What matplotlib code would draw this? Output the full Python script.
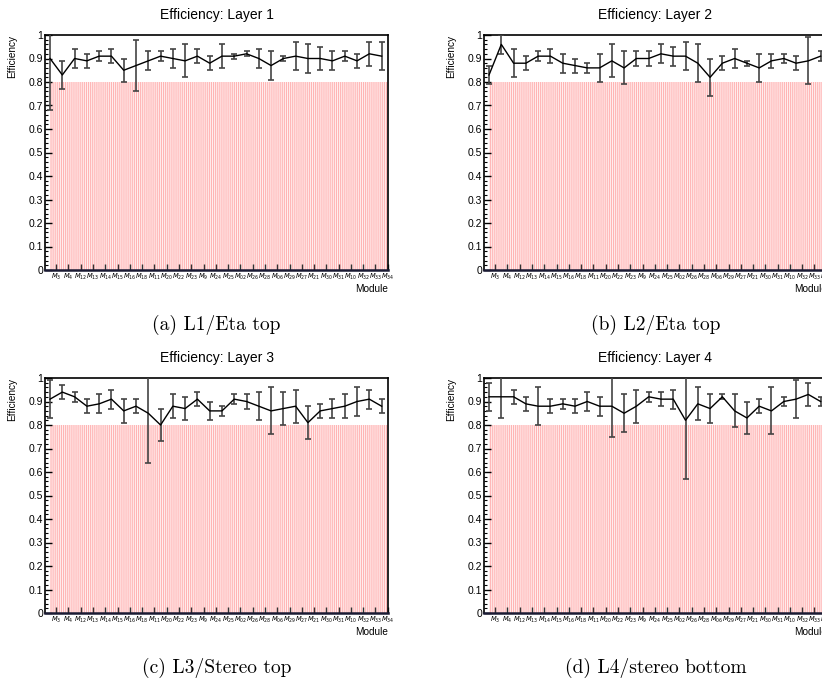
import numpy as np
import matplotlib.pyplot as plt
from matplotlib.ticker import MultipleLocator, FixedLocator

plt.rcParams['font.family'] = ['Liberation Sans', 'DejaVu Sans']
plt.rcParams['hatch.color'] = '#ffb4b4'
plt.rcParams['hatch.linewidth'] = 0.8

# module labels along x (same for every layer)
modules = ["3", "4", "12", "13", "14", "15", "16", "18", "11", "20", "22", "23", "9", "24",
           "25", "02", "26", "28", "06", "29", "27", "21", "30", "31", "10", "32", "33", "34"]

# efficiency and error per module
eff_l1 = [0.90, 0.83, 0.90, 0.89, 0.91, 0.91, 0.85, 0.87, 0.89, 0.91, 0.90, 0.89, 0.91, 0.88,
          0.91, 0.91, 0.92, 0.90, 0.87, 0.90, 0.91, 0.90, 0.90, 0.89, 0.91, 0.89, 0.92, 0.91]
err_l1 = [0.22, 0.06, 0.04, 0.03, 0.02, 0.03, 0.05, 0.11, 0.04, 0.02, 0.04, 0.07, 0.03, 0.03,
          0.05, 0.01, 0.01, 0.04, 0.06, 0.01, 0.06, 0.06, 0.05, 0.04, 0.02, 0.03, 0.05, 0.06]

eff_l2 = [0.83, 0.96, 0.88, 0.88, 0.91, 0.91, 0.88, 0.87, 0.86, 0.86, 0.89, 0.86, 0.90, 0.90,
          0.92, 0.91, 0.91, 0.88, 0.82, 0.88, 0.90, 0.88, 0.86, 0.89, 0.90, 0.88, 0.89, 0.91]
err_l2 = [0.04, 0.04, 0.06, 0.03, 0.02, 0.03, 0.04, 0.03, 0.02, 0.06, 0.07, 0.07, 0.03, 0.03,
          0.04, 0.04, 0.06, 0.08, 0.08, 0.03, 0.04, 0.01, 0.06, 0.03, 0.02, 0.03, 0.10, 0.02]

eff_l3 = [0.91, 0.94, 0.92, 0.88, 0.89, 0.91, 0.86, 0.88, 0.85, 0.80, 0.88, 0.87, 0.91, 0.86,
          0.86, 0.91, 0.90, 0.88, 0.86, 0.87, 0.88, 0.81, 0.86, 0.87, 0.88, 0.90, 0.91, 0.88]
err_l3 = [0.08, 0.03, 0.02, 0.03, 0.04, 0.04, 0.05, 0.03, 0.21, 0.07, 0.05, 0.05, 0.03, 0.04,
          0.02, 0.02, 0.03, 0.06, 0.10, 0.07, 0.07, 0.07, 0.03, 0.04, 0.05, 0.06, 0.04, 0.03]

eff_l4 = [0.92, 0.92, 0.92, 0.89, 0.88, 0.88, 0.89, 0.88, 0.90, 0.88, 0.88, 0.85, 0.88, 0.92,
          0.91, 0.91, 0.82, 0.89, 0.87, 0.92, 0.86, 0.83, 0.88, 0.86, 0.90, 0.91, 0.93, 0.90]
err_l4 = [0.06, 0.09, 0.03, 0.03, 0.08, 0.03, 0.02, 0.03, 0.04, 0.04, 0.13, 0.08, 0.07, 0.02,
          0.03, 0.04, 0.25, 0.07, 0.06, 0.01, 0.07, 0.07, 0.03, 0.10, 0.02, 0.08, 0.05, 0.02]

threshold = [0.8] * len(modules)

titles = ["Efficiency: Layer 1", "Efficiency: Layer 2", "Efficiency: Layer 3", "Efficiency: Layer 4"]
captions = ["(a) L1/Eta top", "(b) L2/Eta top", "(c) L3/Stereo top", "(d) L4/stereo bottom"]
effs = [eff_l1, eff_l2, eff_l3, eff_l4]
errs = [err_l1, err_l2, err_l3, err_l4]

fig = plt.figure(figsize=(8.22, 6.86), dpi=100)
W, H = 822.0, 686.0
# frame positions in pixels (left, top) ; right panels run off the page like the original
frames = [(45, 35), (484, 35), (45, 378), (484, 378)]
fw, fh = 343.0, 235.0

x = np.arange(len(modules))
for k in range(4):
    l, t = frames[k]
    ax = fig.add_axes([l / W, 1 - (t + fh) / H, fw / W, fh / H])
    ax.bar(x + 0.5, threshold, width=1.0, facecolor='#fff0f0', edgecolor='#ffb4b4',
           linewidth=0, hatch='||||||||', zorder=1)
    ax.errorbar(x, effs[k], yerr=errs[k], color='black', lw=1.0, ecolor='#444444',
                elinewidth=1.2, capsize=2, capthick=1.2, zorder=3)
    ax.set_xlim(-0.41, 27.52)
    ax.set_ylim(0, 1)

    ax.yaxis.set_major_locator(MultipleLocator(0.1))
    ax.yaxis.set_minor_locator(MultipleLocator(0.02))
    ax.set_yticks(np.arange(0, 1.01, 0.1))
    ax.set_yticklabels(["0", "0.1", "0.2", "0.3", "0.4", "0.5", "0.6", "0.7", "0.8", "0.9", "1"])
    ax.tick_params(axis='y', which='major', direction='in', length=5, width=1, labelsize=7.5, pad=1.5)
    ax.tick_params(axis='y', which='minor', direction='in', length=2.5, width=0.8)
    ax.xaxis.set_major_locator(FixedLocator(x + 0.5))
    ax.set_xticklabels([r"$M_{%s}$" % m for m in modules])
    ax.tick_params(axis='x', which='major', direction='in', length=4, width=1,
                   color='#333333', labelsize=4.8, pad=1.2)

    for s in ['top', 'left', 'right']:
        ax.spines[s].set_linewidth(1.2)
    ax.spines['bottom'].set_linewidth(1.8)
    ax.spines['bottom'].set_color('#1a1a33')

    ax.text(0.5, 1.085, titles[k], transform=ax.transAxes, ha='center', va='center', fontsize=10)
    ax.text(-0.095, 1.0, "Efficiency", transform=ax.transAxes, rotation=90,
            ha='center', va='top', fontsize=7.2)
    ax.text(1.0, -0.08, "Module", transform=ax.transAxes, ha='right', va='center', fontsize=7.2)
    ax.text(0.5, -0.234, captions[k], transform=ax.transAxes, ha='center', va='center',
            fontsize=14, family='cmr10')

fig.savefig("out.png", dpi=100)
